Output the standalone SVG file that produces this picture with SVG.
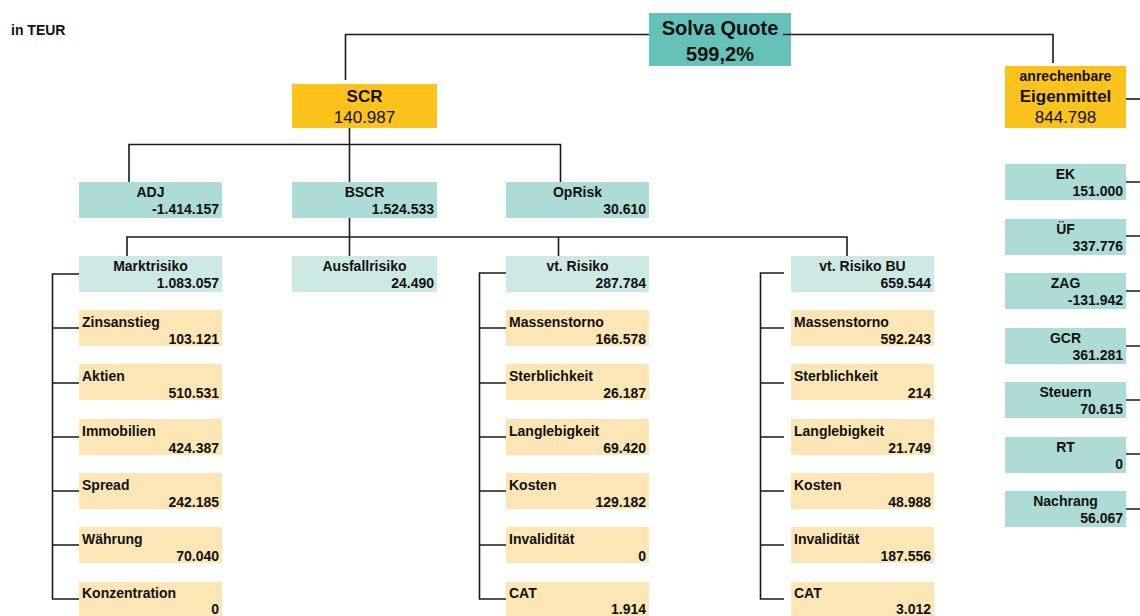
<svg xmlns="http://www.w3.org/2000/svg" width="1140" height="616" viewBox="0 0 1140 616">
<style>
text{font-family:"Liberation Sans",Arial,sans-serif;fill:#111}
.b{font-weight:bold;font-size:14px}
.m{text-anchor:middle}
.r{text-anchor:end}
.big{font-size:17px}
.q{fill:#66C2B8}
.g{fill:#FCC31D}
.t2{fill:#ADDCD6}
.t3{fill:#CDE9E4}
.y{fill:#FDE6B5}
#connectors path{fill:none;stroke:#1a1a1a;stroke-width:1.6}
</style>
<rect width="1140" height="616" fill="#fff"/>
<text class="b" x="11" y="35" font-size="13.5">in TEUR</text>

<g id="solva"><rect class="q" x="649" y="13" width="142" height="53"/>
<text class="m" x="720" y="35" font-size="20" font-weight="bold">Solva Quote</text>
<text class="m" x="720" y="61" font-size="20" font-weight="bold">599,2%</text></g>

<g id="scr"><rect class="g" x="292" y="84" width="145" height="44"/>
<text class="m big" x="364.5" y="102" font-weight="bold">SCR</text>
<text class="m big" x="364.5" y="123">140.987</text></g>

<g id="eigenmittel"><rect class="g" x="1005" y="66" width="121" height="62"/>
<text class="b m" x="1065.5" y="81" font-size="13.5">anrechenbare</text>
<text class="m big" x="1065.5" y="102" font-weight="bold">Eigenmittel</text>
<text class="m big" x="1065.5" y="123">844.798</text></g>

<g id="adj"><rect class="t2" x="79" y="182" width="143" height="36"/>
<text class="b m" x="150.5" y="197">ADJ</text><text class="b r" x="219" y="214">-1.414.157</text></g>
<g id="bscr"><rect class="t2" x="292" y="182" width="145" height="36"/>
<text class="b m" x="364.5" y="197">BSCR</text><text class="b r" x="434" y="214">1.524.533</text></g>
<g id="oprisk"><rect class="t2" x="506" y="182" width="143" height="36"/>
<text class="b m" x="577.5" y="197">OpRisk</text><text class="b r" x="646" y="214">30.610</text></g>

<g id="marktrisiko"><rect class="t3" x="79" y="256" width="143" height="36"/>
<text class="b m" x="150.5" y="271">Marktrisiko</text><text class="b r" x="219" y="288">1.083.057</text></g>
<g id="ausfallrisiko"><rect class="t3" x="292" y="256" width="145" height="36"/>
<text class="b m" x="364.5" y="271">Ausfallrisiko</text><text class="b r" x="434" y="288">24.490</text></g>
<g id="vtrisiko"><rect class="t3" x="506" y="256" width="143" height="36"/>
<text class="b m" x="577.5" y="271">vt. Risiko</text><text class="b r" x="646" y="288">287.784</text></g>
<g id="vtrisikobu"><rect class="t3" x="791" y="256" width="143" height="36"/>
<text class="b m" x="862.5" y="271">vt. Risiko BU</text><text class="b r" x="931" y="288">659.544</text></g>

<g id="zinsanstieg"><rect class="y" x="79" y="310" width="143" height="36"/><text class="b" x="82" y="326.5">Zinsanstieg</text><text class="b r" x="219" y="344">103.121</text></g>
<g id="aktien"><rect class="y" x="79" y="364" width="143" height="36"/><text class="b" x="82" y="380.5">Aktien</text><text class="b r" x="219" y="398">510.531</text></g>
<g id="immobilien"><rect class="y" x="79" y="419" width="143" height="36"/><text class="b" x="82" y="435.5">Immobilien</text><text class="b r" x="219" y="453">424.387</text></g>
<g id="spread"><rect class="y" x="79" y="473" width="143" height="36"/><text class="b" x="82" y="489.5">Spread</text><text class="b r" x="219" y="507">242.185</text></g>
<g id="waehrung"><rect class="y" x="79" y="527" width="143" height="36"/><text class="b" x="82" y="543.5">Währung</text><text class="b r" x="219" y="561">70.040</text></g>
<g id="konzentration"><rect class="y" x="79" y="582" width="143" height="36"/><text class="b" x="82" y="598">Konzentration</text><text class="b r" x="219" y="614">0</text></g>

<g id="vt-massenstorno"><rect class="y" x="506" y="310" width="143" height="36"/><text class="b" x="509" y="326.5">Massenstorno</text><text class="b r" x="646" y="344">166.578</text></g>
<g id="vt-sterblichkeit"><rect class="y" x="506" y="364" width="143" height="36"/><text class="b" x="509" y="380.5">Sterblichkeit</text><text class="b r" x="646" y="398">26.187</text></g>
<g id="vt-langlebigkeit"><rect class="y" x="506" y="419" width="143" height="36"/><text class="b" x="509" y="435.5">Langlebigkeit</text><text class="b r" x="646" y="453">69.420</text></g>
<g id="vt-kosten"><rect class="y" x="506" y="473" width="143" height="36"/><text class="b" x="509" y="489.5">Kosten</text><text class="b r" x="646" y="507">129.182</text></g>
<g id="vt-invaliditaet"><rect class="y" x="506" y="527" width="143" height="36"/><text class="b" x="509" y="543.5">Invalidität</text><text class="b r" x="646" y="561">0</text></g>
<g id="vt-cat"><rect class="y" x="506" y="582" width="143" height="36"/><text class="b" x="509" y="598">CAT</text><text class="b r" x="646" y="614">1.914</text></g>

<g id="bu-massenstorno"><rect class="y" x="791" y="310" width="143" height="36"/><text class="b" x="794" y="326.5">Massenstorno</text><text class="b r" x="931" y="344">592.243</text></g>
<g id="bu-sterblichkeit"><rect class="y" x="791" y="364" width="143" height="36"/><text class="b" x="794" y="380.5">Sterblichkeit</text><text class="b r" x="931" y="398">214</text></g>
<g id="bu-langlebigkeit"><rect class="y" x="791" y="419" width="143" height="36"/><text class="b" x="794" y="435.5">Langlebigkeit</text><text class="b r" x="931" y="453">21.749</text></g>
<g id="bu-kosten"><rect class="y" x="791" y="473" width="143" height="36"/><text class="b" x="794" y="489.5">Kosten</text><text class="b r" x="931" y="507">48.988</text></g>
<g id="bu-invaliditaet"><rect class="y" x="791" y="527" width="143" height="36"/><text class="b" x="794" y="543.5">Invalidität</text><text class="b r" x="931" y="561">187.556</text></g>
<g id="bu-cat"><rect class="y" x="791" y="582" width="143" height="36"/><text class="b" x="794" y="598">CAT</text><text class="b r" x="931" y="614">3.012</text></g>

<g id="ek"><rect class="t2" x="1005" y="164" width="121" height="36"/><text class="b m" x="1065.5" y="179">EK</text><text class="b r" x="1123" y="196">151.000</text></g>
<g id="uef"><rect class="t2" x="1005" y="219" width="121" height="36"/><text class="b m" x="1065.5" y="234">ÜF</text><text class="b r" x="1123" y="251">337.776</text></g>
<g id="zag"><rect class="t2" x="1005" y="273" width="121" height="36"/><text class="b m" x="1065.5" y="288">ZAG</text><text class="b r" x="1123" y="305">-131.942</text></g>
<g id="gcr"><rect class="t2" x="1005" y="328" width="121" height="36"/><text class="b m" x="1065.5" y="343">GCR</text><text class="b r" x="1123" y="360">361.281</text></g>
<g id="steuern"><rect class="t2" x="1005" y="382" width="121" height="36"/><text class="b m" x="1065.5" y="397">Steuern</text><text class="b r" x="1123" y="414">70.615</text></g>
<g id="rt"><rect class="t2" x="1005" y="437" width="121" height="36"/><text class="b m" x="1065.5" y="452">RT</text><text class="b r" x="1123" y="469">0</text></g>
<g id="nachrang"><rect class="t2" x="1005" y="491" width="121" height="36"/><text class="b m" x="1065.5" y="506">Nachrang</text><text class="b r" x="1123" y="523">56.067</text></g>

<g id="connectors">
<path d="M649 34.5H345.5V80"/>
<path d="M783 34.5H1053V63"/>
<path d="M1126 99H1140"/>
<path d="M349.5 128V182M129 182V144.5H560.5V182"/>
<path d="M349.5 218V256M127 256V237H847V256M558.5 237V256"/>
<path d="M79 274H52.5V599H79M52.5 328H79M52.5 383H79M52.5 437H79M52.5 491H79M52.5 545H79"/>
<path d="M506 273H479.5V599H506M479.5 328H506M479.5 383H506M479.5 437H506M479.5 491H506M479.5 545H506"/>
<path d="M784 273H760.5V599H784M760.5 328H784M760.5 383H784M760.5 437H784M760.5 491H784M760.5 545H784"/>
<path d="M1126 182H1140M1126 236H1140M1126 291H1140M1126 346H1140M1126 400H1140M1126 454H1140M1126 509H1140"/>
</g>
</svg>
